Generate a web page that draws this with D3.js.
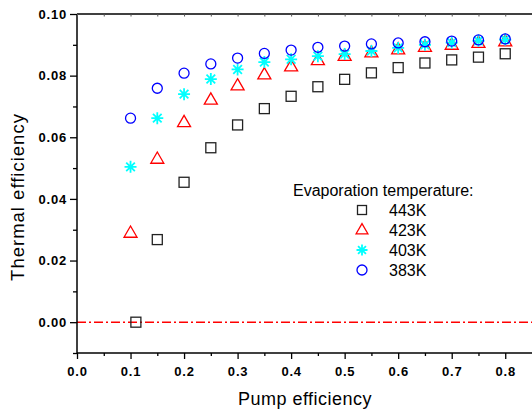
<!DOCTYPE html>
<html>
<head>
<meta charset="utf-8">
<script src="https://cdn.jsdelivr.net/npm/d3@7"></script>
<style>
  html, body { margin: 0; padding: 0; background: #fff; }
  svg { display: block; }
  text { font-family: "Liberation Sans", Arial, sans-serif; }
</style>
</head>
<body>
<svg id="chart" width="532" height="412"></svg>
<script>
// ---- data ----
const pumpEff = [0.10, 0.15, 0.20, 0.25, 0.30, 0.35, 0.40, 0.45, 0.50, 0.55, 0.60, 0.65, 0.70, 0.75, 0.80];
const pumpEff443 = [0.11, 0.15, 0.20, 0.25, 0.30, 0.35, 0.40, 0.45, 0.50, 0.55, 0.60, 0.65, 0.70, 0.75, 0.80];
const eff443 = [0.0000, 0.0268, 0.0454, 0.0566, 0.0640, 0.0693, 0.0733, 0.0764, 0.0788, 0.0809, 0.0826, 0.0841, 0.0851, 0.0860, 0.0871];
const eff423 = [0.0291, 0.0531, 0.0650, 0.0723, 0.0769, 0.0805, 0.0831, 0.0851, 0.0865, 0.0876, 0.0886, 0.0894, 0.0901, 0.0907, 0.0912];
const eff403 = [0.0504, 0.0662, 0.0740, 0.0789, 0.0820, 0.0844, 0.0853, 0.0863, 0.0870, 0.0880, 0.0890, 0.0900, 0.0907, 0.0913, 0.0917];
const eff383 = [0.0662, 0.0759, 0.0808, 0.0838, 0.0857, 0.0872, 0.0883, 0.0892, 0.0896, 0.0903, 0.0906, 0.0910, 0.0912, 0.0916, 0.0919];
const seriesNames = ["443K", "423K", "403K", "383K"];
const legendTitle = "Evaporation temperature:";
const xTicks = [0.0, 0.1, 0.2, 0.3, 0.4, 0.5, 0.6, 0.7, 0.8];
const xMinorTicks = [0.05, 0.15, 0.25, 0.35, 0.45, 0.55, 0.65, 0.75];
const yTicks = [0.00, 0.02, 0.04, 0.06, 0.08, 0.10];
const yMinorTicks = [-0.01, 0.01, 0.03, 0.05, 0.07, 0.09];
const xTitle = "Pump efficiency";
const yTitle = "Thermal efficiency";

// ---- scales ----
const svg = d3.select("#chart");
const x = d3.scaleLinear().domain([0, 0.85]).range([77, 532]);
const y = d3.scaleLinear().domain([-0.01, 0.10]).range([353, 14]);

// ---- symbols ----
function drawMarker(g, type, size) {
  if (type === "square") {
    const h = size / 2;
    g.append("rect").attr("x", -h).attr("y", -h).attr("width", size).attr("height", size)
      .attr("fill", "none").attr("stroke", "#222").attr("stroke-width", 1.3);
  } else if (type === "triangle") {
    const w = size * 0.62, top = -size * 0.62, bot = size * 0.45;
    g.append("path").attr("d", `M0,${top}L${w},${bot}L${-w},${bot}Z`)
      .attr("fill", "none").attr("stroke", "#ff0000").attr("stroke-width", 1.3);
  } else if (type === "star") {
    const r = size / 2, d = r * 0.72;
    g.append("path").attr("d", `M0,${-r}L0,${r}M${-r},0L${r},0M${-d},${-d}L${d},${d}M${-d},${d}L${d},${-d}`)
      .attr("fill", "none").attr("stroke", "#00ffff").attr("stroke-width", 1.8);
  } else {
    g.append("circle").attr("r", size / 2)
      .attr("fill", "none").attr("stroke", "#0000ff").attr("stroke-width", 1.3);
  }
}

// ---- zero line ----
svg.append("line")
  .attr("x1", x(0)).attr("x2", x(0.85)).attr("y1", y(0)).attr("y2", y(0))
  .attr("stroke", "#ff0000").attr("stroke-width", 1.5).attr("stroke-dasharray", "9,3,2,3");

// ---- data series ----
const series = [
  { xs: pumpEff443, ys: eff443, type: "square", size: 10 },
  { xs: pumpEff, ys: eff423, type: "triangle", size: 10.5 },
  { xs: pumpEff, ys: eff403, type: "star", size: 12 },
  { xs: pumpEff, ys: eff383, type: "circle", size: 10 }
];
series.forEach(s => {
  const g = svg.append("g");
  s.ys.forEach((v, i) => {
    const m = g.append("g").attr("transform", `translate(${x(s.xs[i])},${y(v)})`);
    drawMarker(m, s.type, s.size);
  });
});

// ---- axes ----
const axisFont = g => g.selectAll("text")
  .attr("font-family", "Liberation Sans, Arial, sans-serif")
  .attr("font-weight", "bold").attr("font-size", 13).attr("fill", "#000")
  .attr("letter-spacing", "0.8px");

const xAxis = svg.append("g").attr("transform", `translate(0,${y(-0.01)})`)
  .call(d3.axisBottom(x).tickValues(xTicks).tickFormat(d3.format(".1f")).tickSize(6).tickPadding(8));
xAxis.call(axisFont);
xAxis.select(".domain").attr("stroke-width", 1.5).attr("d", `M${x(0)},0H${x(0.85)}`);
xAxis.selectAll(".tick line").attr("stroke-width", 1.3);
svg.append("g").attr("transform", `translate(0,${y(-0.01)})`)
  .call(d3.axisBottom(x).tickValues(xMinorTicks).tickFormat("").tickSize(3))
  .call(g => g.select(".domain").remove())
  .selectAll("line").attr("stroke-width", 1.3);

const yAxis = svg.append("g").attr("transform", `translate(${x(0)},0)`)
  .call(d3.axisLeft(y).tickValues(yTicks).tickFormat(d3.format(".2f")).tickSize(7).tickPadding(3));
yAxis.call(axisFont);
yAxis.select(".domain").attr("stroke-width", 1.5).attr("d", `M0,${y(-0.01)}V${y(0.10)}`);
yAxis.selectAll(".tick line").attr("stroke-width", 1.3);
svg.append("g").attr("transform", `translate(${x(0)},0)`)
  .call(d3.axisLeft(y).tickValues(yMinorTicks).tickFormat("").tickSize(4))
  .call(g => g.select(".domain").remove())
  .selectAll("line").attr("stroke-width", 1.3);

// top frame with inward ticks
const topAxis = svg.append("g").attr("transform", `translate(0,${y(0.10)})`)
  .call(d3.axisTop(x).tickValues(xTicks.concat(xMinorTicks)).tickFormat("").tickSize(-2.5));
topAxis.select(".domain").attr("stroke-width", 1.5).attr("d", `M${x(0)},0H${x(0.85)}`);
topAxis.selectAll("line").attr("stroke", "#555").attr("stroke-width", 1);

// ---- titles ----
svg.append("text").attr("x", 305).attr("y", 405).attr("text-anchor", "middle")
  .attr("font-size", 18).attr("letter-spacing", "0.5px").text(xTitle);
svg.append("text").attr("transform", "translate(24,197) rotate(-90)").attr("text-anchor", "middle")
  .attr("font-size", 18.5).attr("letter-spacing", "1px").text(yTitle);

// ---- legend ----
const leg = svg.append("g");
leg.append("text").attr("x", 293).attr("y", 196).attr("font-size", 16).text(legendTitle);
const legTypes = ["square", "triangle", "star", "circle"];
const legSizes = [9, 9.5, 11, 10];
const legRowsY = [210, 229.5, 250, 270];
seriesNames.forEach((name, i) => {
  const m = leg.append("g").attr("transform", `translate(362,${legRowsY[i]})`);
  drawMarker(m, legTypes[i], legSizes[i]);
  leg.append("text").attr("x", 389).attr("y", legRowsY[i] + 6).attr("font-size", 16).text(name);
});
</script>
</body>
</html>
